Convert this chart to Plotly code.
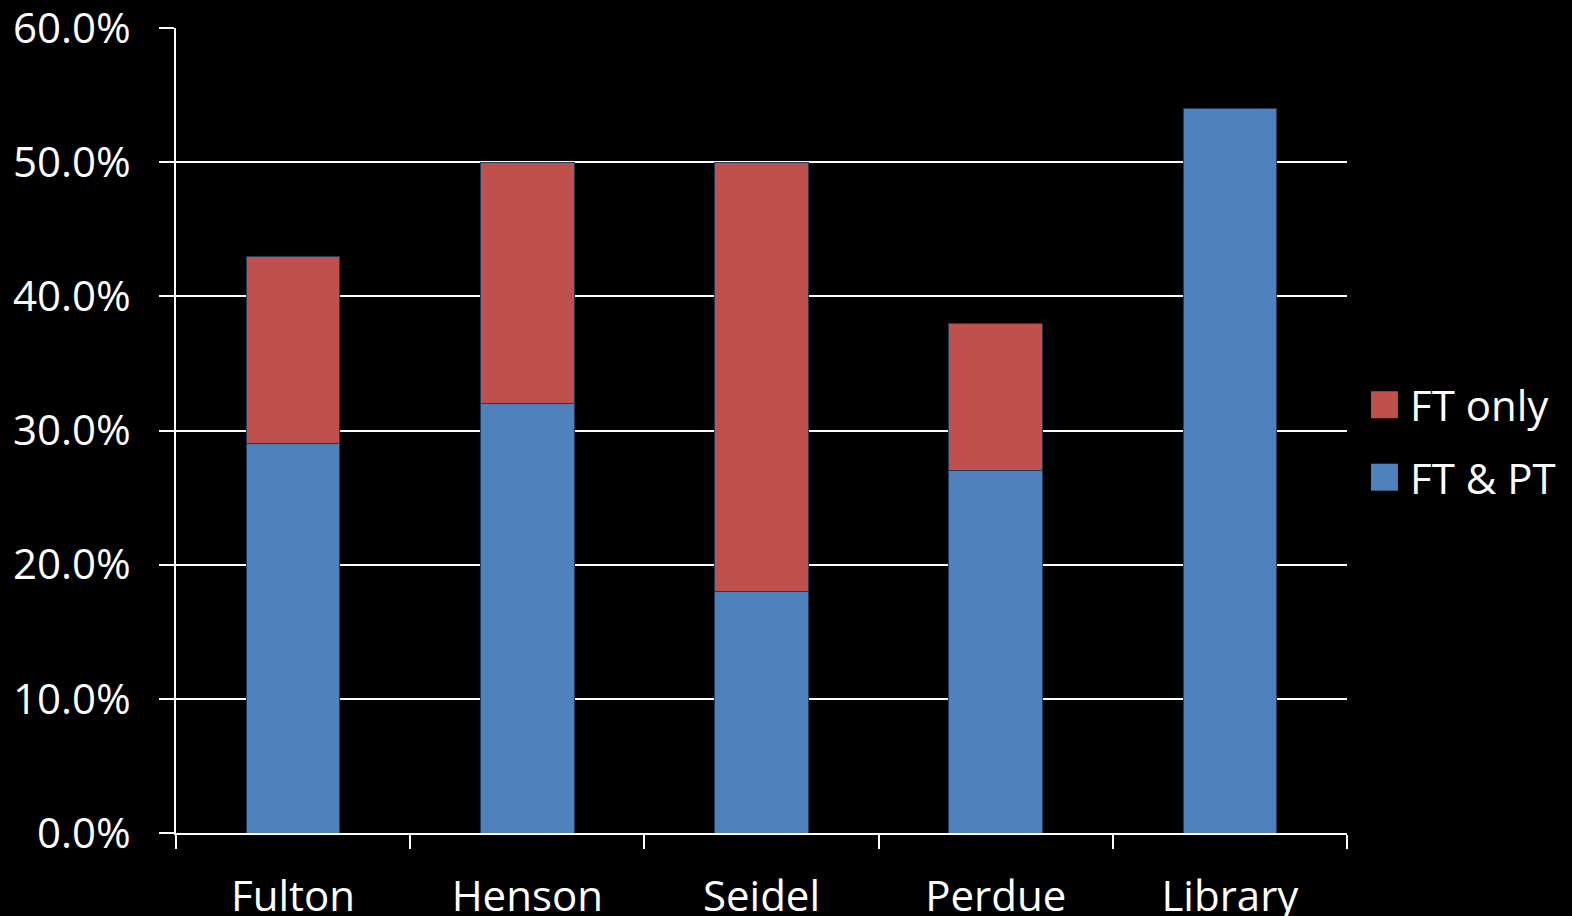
import plotly.graph_objects as go

# Share of staff by building, split by schedule type
buildings = ["Fulton", "Henson", "Seidel", "Perdue", "Library"]
ft_and_pt = [0.29, 0.32, 0.18, 0.27, 0.54]
ft_only = [0.14, 0.18, 0.32, 0.11, 0.0]

series = [
    ("FT & PT", ft_and_pt, "#4F81BD"),
    ("FT only", ft_only, "#C0504D"),
]

FONT = "Open Sans, sans-serif"
FSIZE = 42
PLOT_H = 805

fig = go.Figure()
for name, vals, color in series:
    fig.add_trace(go.Bar(
        x=buildings, y=vals, name=name,
        marker=dict(color=color, line=dict(color="#1f3a5a", width=1)),
        width=0.4, showlegend=False,
    ))

fig.update_layout(
    barmode="stack",
    width=1572, height=916,
    paper_bgcolor="black", plot_bgcolor="black",
    margin=dict(l=176, r=225, t=28, b=83),
    font=dict(family=FONT, color="white", size=FSIZE),
    showlegend=False,
)

fig.update_yaxes(
    range=[0, 0.6], dtick=0.1, tickformat=".1%",
    showgrid=True, gridcolor="white", gridwidth=1.5,
    ticks="outside", ticklen=15, tickcolor="white", tickwidth=1.5,
    showline=True, linecolor="white", linewidth=1.5,
    zeroline=False, ticklabelstandoff=20, automargin=False,
    ticklabeloverflow="allow",
    tickfont=dict(size=FSIZE, color="white", family=FONT),
)
fig.update_xaxes(
    tickson="boundaries", ticks="outside", ticklen=14,
    tickcolor="white", tickwidth=1.5,
    showline=True, linecolor="white", linewidth=1.5,
    showgrid=False, ticklabelstandoff=26, automargin=False,
    ticklabeloverflow="allow",
    tickfont=dict(size=FSIZE, color="white", family=FONT),
)

# Legend drawn as swatches and labels to the right of the plot area
legend_items = [("FT only", "#C0504D", 0.532), ("FT & PT", "#4F81BD", 0.442)]
for label, color, yc in legend_items:
    half_h = 13.5 / PLOT_H
    fig.add_shape(type="rect", xref="paper", yref="paper",
                  x0=1.0205, x1=1.0435, y0=yc - half_h, y1=yc + half_h,
                  fillcolor=color, line=dict(width=0))
    fig.add_annotation(xref="paper", yref="paper", x=1.0525, y=yc,
                       text=label, showarrow=False, xanchor="left", yanchor="middle",
                       font=dict(size=FSIZE, color="white", family=FONT))

fig.write_html("out.html")
